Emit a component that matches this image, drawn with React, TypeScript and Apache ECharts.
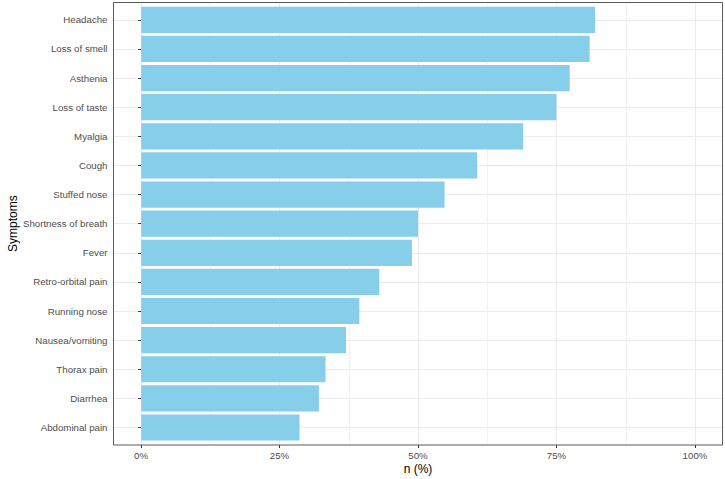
import React, { useEffect, useRef } from "react";
import * as echarts from "echarts";

const symptoms = [
  "Headache",
  "Loss of smell",
  "Asthenia",
  "Loss of taste",
  "Myalgia",
  "Cough",
  "Stuffed nose",
  "Shortness of breath",
  "Fever",
  "Retro-orbital pain",
  "Running nose",
  "Nausea/vomiting",
  "Thorax pain",
  "Diarrhea",
  "Abdominal pain",
];
const percentages = [82.0, 81.0, 77.4, 75.0, 69.0, 60.7, 54.8, 50.0, 48.9, 43.0, 39.4, 37.0, 33.3, 32.1, 28.6];
const xTicks = [0, 25, 50, 75, 100];

const FONT = "'Liberation Sans', Arial, sans-serif";

export default function App() {
  const ref = useRef<HTMLDivElement>(null);
  useEffect(() => {
    if (!ref.current) return;
    const chart = echarts.init(ref.current, null, { renderer: "svg" });
    const panel = { left: 113.5, top: 2.5, right: 722.5, bottom: 445 };
    chart.setOption({
      animation: false,
      backgroundColor: "#ffffff",
      textStyle: { fontFamily: FONT },
      grid: [
        {
          left: 141,
          right: 30,
          top: panel.top,
          bottom: 479 - panel.bottom,
          containLabel: false,
          outerBoundsMode: "none",
        },
        {
          left: panel.left,
          right: 725 - panel.right,
          top: 19.8,
          bottom: 479 - 427.5,
          containLabel: false,
          outerBoundsMode: "none",
        },
      ],
      xAxis: [
        {
          gridIndex: 0,
          type: "value",
          min: xTicks[0],
          max: xTicks[xTicks.length - 1],
          interval: 25,
          axisLine: { show: false },
          axisTick: { show: true, length: 3, lineStyle: { color: "#333333", width: 1 } },
          axisLabel: {
            fontSize: 9.7,
            color: "#4D4D4D",
            margin: 5,
            fontFamily: FONT,
            formatter: (v: number) => `${v}%`,
          },
          splitLine: { show: true, lineStyle: { color: "#EBEBEB", width: 1 } },
          minorTick: { show: false, splitNumber: 2 },
          minorSplitLine: { show: true, lineStyle: { color: "#F3F3F3", width: 1 } },
          name: "n (%)",
          nameLocation: "middle",
          nameGap: 18,
          nameMoveOverlap: false,
          nameTextStyle: { fontSize: 12, color: "#000000", fontFamily: FONT },
        },
        {
          gridIndex: 1,
          type: "value",
          min: -5,
          max: 105,
          show: false,
        },
      ],
      yAxis: [
        { gridIndex: 0, type: "value", show: false },
        {
          gridIndex: 1,
          type: "category",
          data: symptoms,
          inverse: true,
          boundaryGap: false,
          axisLine: { show: false },
          axisTick: { show: true, length: 3, alignWithLabel: true, lineStyle: { color: "#333333", width: 1 } },
          axisLabel: { interval: 0, fontSize: 9.7, color: "#4D4D4D", margin: 6, fontFamily: FONT },
          splitLine: { show: true, interval: 0, lineStyle: { color: "#EBEBEB", width: 1 } },
          name: "Symptoms",
          nameLocation: "middle",
          nameRotate: 90,
          nameGap: 95,
          nameMoveOverlap: false,
          nameTextStyle: { fontSize: 12, color: "#000000", fontFamily: FONT },
        },
      ],
      series: [
        {
          type: "bar",
          xAxisIndex: 1,
          yAxisIndex: 1,
          data: percentages,
          barWidth: "90%",
          clip: false,
          itemStyle: { color: "#87CEEB" },
          silent: true,
        },
      ],
      graphic: [
        {
          type: "rect",
          z: 100,
          silent: true,
          shape: {
            x: panel.left,
            y: panel.top,
            width: panel.right - panel.left,
            height: panel.bottom - panel.top,
          },
          style: { fill: "none", stroke: "#5a5a5a", lineWidth: 1 },
        },
      ],
    });
    return () => chart.dispose();
  }, []);
  return (
    <div
      ref={ref}
      style={{ position: "fixed", left: 0, top: 0, width: 725, height: 479 }}
    />
  );
}
